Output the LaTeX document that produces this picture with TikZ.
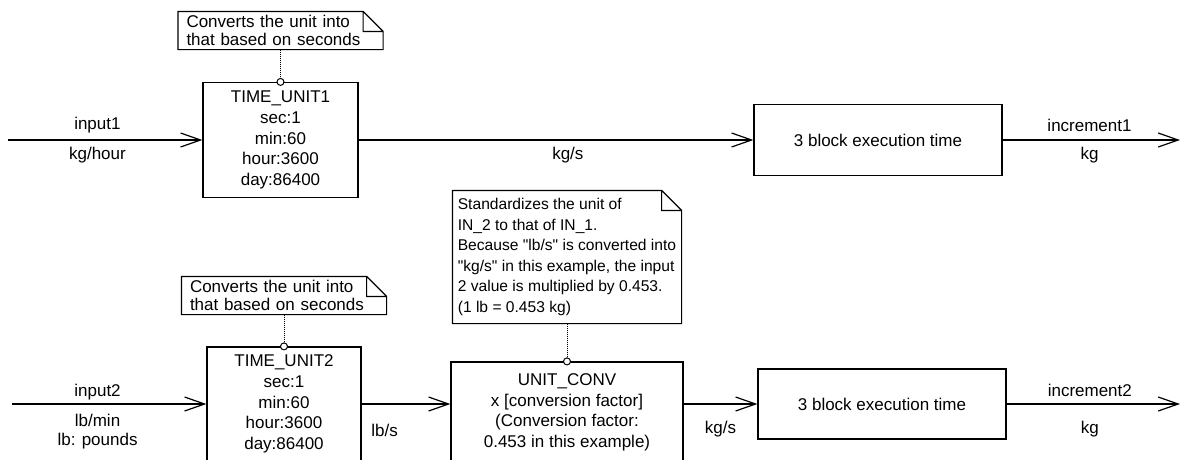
\documentclass[tikz,border=0pt]{standalone}
\usepackage{fontspec}
\setmainfont{Liberation Sans}
\usetikzlibrary{arrows.meta, positioning, calc}

\begin{document}
\begin{tikzpicture}[x=1pt, y=-1pt, line width=1.2pt,
  font=\fontsize{17}{20.6}\selectfont,
  >={Straight Barb[length=20pt, width=14pt]},
  blockbox/.style={draw, rectangle, align=center, inner sep=0pt},
  memo/.style={rectangle, align=left, inner ysep=0pt, inner xsep=#1},
  flow/.style={->},
  lbl/.style={inner sep=0pt, align=center},
  pinline/.style={densely dotted, line width=1pt},
  pinhead/.style={draw, fill=white, line width=1pt}
]

% Frame
\useasboundingbox (0,0) rectangle (1181,459);
\clip (0,0) rectangle (1181,459);

% Free ends
\coordinate (in1) at (8,140);
\coordinate (out1) at (1180,140);
\coordinate (in2) at (12,404);
\coordinate (out2) at (1180,404);

% Upper row
\node[blockbox, minimum width=155pt, minimum height=115pt] (tu1) at (280.5,140)
  {TIME\_UNIT1\\sec:1\\min:60\\hour:3600\\day:86400};
\node[blockbox, minimum width=248pt, minimum height=71pt] (exec1) at (878,140)
  {3 block execution time};

% Lower row
\node[blockbox, minimum width=154pt, minimum height=114pt] (tu2) at (284,404)
  {TIME\_UNIT2\\sec:1\\min:60\\hour:3600\\day:86400};
\node[blockbox, minimum width=232pt, minimum height=101pt] (conv) at (567,412.5)
  {UNIT\_CONV\\x [conversion factor]\\(Conversion factor:\\0.453 in this example)};
\node[blockbox, minimum width=248pt, minimum height=70pt] (exec2) at (882,404)
  {3 block execution time};

% Notes
\node[memo=8pt, text width=188pt, minimum height=37pt,
      font=\fontsize{17}{17.5}\selectfont] (note1) at (280.5,30.5)
  {Converts the unit into\\that based on seconds};
\node[memo=8pt, text width=188pt, minimum height=37pt,
      font=\fontsize{17}{17.5}\selectfont] (note2) at (284,295.5)
  {Converts the unit into\\that based on seconds};
\node[memo=0pt, minimum width=228pt, minimum height=132pt,
      font=\fontsize{15.6}{20.6}\selectfont] (note3) at (567,257)
  {Standardizes the unit of\\IN\_2 to that of IN\_1.\\Because \textquotedbl lb/s\textquotedbl{} is converted into\\\textquotedbl kg/s\textquotedbl{} in this example, the input\\2 value is multiplied by 0.453.\\(1 lb = 0.453 kg)};

% Dog-ear outlines and pins
\foreach \n/\b in {note1/tu1, note2/tu2, note3/conv} {
  \draw ($(\n.north east)+(-20,0)$) -- (\n.north west) -- (\n.south west)
        -- (\n.south east) -- ($(\n.north east)+(0,20)$) -- cycle
        ($(\n.north east)+(-20,0)$) |- ($(\n.north east)+(0,20)$);
  \draw[pinline] (\n.south) -- (\b.north);
  \draw[pinhead] (\b.north) circle[radius=3.5];
}

% Upper flow
\draw[flow] (in1) -- node[lbl, pos=0.46, yshift=15pt] (l_in1) {input1}
                     node[lbl, pos=0.46, yshift=-15pt] (u_in1) {kg/hour} (tu1);
\draw[flow] (tu1) -- node[lbl, pos=0.53, yshift=-15pt] (u_mid1) {kg/s} (exec1);
\draw[flow] (exec1) -- node[lbl, pos=0.49, yshift=15pt] (l_out1) {increment1}
                       node[lbl, pos=0.49, yshift=-15pt] (u_out1) {kg} (out1);

% Lower flow
\draw[flow] (in2) -- node[lbl, pos=0.44, yshift=12pt] (l_in2) {input2}
                     node[lbl, pos=0.44, yshift=-27.5pt, font=\fontsize{17}{19}\selectfont] (u_in2) {lb/min\\lb: pounds} (tu2);
\draw[flow] (tu2) -- node[lbl, pos=0.26, yshift=-26pt] (u_mid2) {lb/s} (tu2 -| conv.west);
\draw[flow] (conv.east |- exec2) -- node[lbl, pos=0.5, yshift=-25pt] (u_mid3) {kg/s} (exec2);
\draw[flow] (exec2) -- node[lbl, pos=0.48, yshift=14pt] (l_out2) {increment2}
                       node[lbl, pos=0.48, yshift=-25pt] (u_out2) {kg} (out2);

\end{tikzpicture}
\end{document}
